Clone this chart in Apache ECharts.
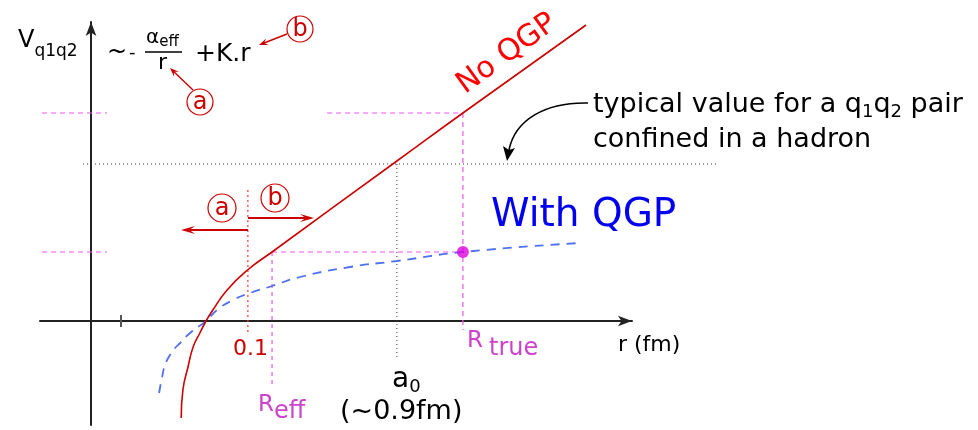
<!DOCTYPE html>
<html>
<head>
<meta charset="utf-8">
<script src="https://cdn.jsdelivr.net/npm/echarts@6/dist/echarts.min.js"></script>
<style>
  html, body { margin: 0; padding: 0; background: #fff; }
  #chart { width: 978px; height: 430px; }
</style>
</head>
<body>
<div id="chart"></div>
<script>
// Quark-antiquark potential V(r): vacuum (no QGP) vs. screened (with QGP)
const rNoQgp = [0.265, 0.270, 0.285, 0.300, 0.320, 0.338, 0.358, 0.400, 0.460, 0.532, 0.899, 1.093, 1.455];
const vNoQgp = [-0.97, -0.69, -0.46, -0.26, -0.12, 0.00, 0.11, 0.31, 0.51, 0.69, 1.60, 2.08, 2.96];

const rWithQgp = [0.200, 0.209, 0.2175, 0.232, 0.247, 0.262, 0.291, 0.338, 0.370, 0.417, 0.467, 0.532, 0.614, 0.761, 0.899, 1.093, 1.437];
const vWithQgp = [-0.72, -0.56, -0.44, -0.34, -0.27, -0.22, -0.12, 0.00, 0.11, 0.21, 0.28, 0.35, 0.44, 0.54, 0.60, 0.69, 0.78];

// characteristic radii
const rTick = 0.088;
const rCut = 0.461;      // 0.1 fm boundary between Coulomb (a) and linear (b) regimes
const rEff = 0.532;
const rA0 = 0.899;
const rTrue = 1.093;

// characteristic potential levels
const vHadron = 1.57;    // typical value for a confined pair
const vHigh = 2.08;      // V_noQGP(R_true)
const vLow = 0.69;       // V_noQGP(R_eff) = V_QGP(R_true)

// extents of guide lines
const rGuideLeft = [-0.144, 0.047];
const rHighRight = 0.694;
const rHadronSpan = [-0.0235, 1.843];
const vEffBottom = -0.67;
const vTrueBottom = -0.09;
const vA0Bottom = -0.39;
const vCutSpan = [-0.12, 1.31];
const tickHalf = 0.06;

// axis ranges: the drawn r axis stops at rAxisMax, the plotting area runs on to rPlotMax
const rMin = -0.15, rAxisMax = 1.59, rPlotMax = 1.8722;
const vMin = -1.04, vMax = 2.99;

const zip = (xs, ys) => xs.map((x, i) => [x, ys[i]]);

const FONT = 'DejaVu Sans';
const RED = '#cc0000';
const PINK = '#ee55ee';
const MAGENTA = '#cc44cc';

function seg(data, color, type, width, extra) {
  return Object.assign({
    type: 'line', data: data, symbol: 'none', silent: true,
    xAxisIndex: 0, yAxisIndex: 0,
    lineStyle: { color: color, type: type, width: width }, z: 3
  }, extra || {});
}

const series = [
  // guide lines
  seg([[rGuideLeft[0], vHigh], [rGuideLeft[1], vHigh]], PINK, [5, 4], 1.2),
  seg([[rHighRight, vHigh], [rTrue, vHigh]], PINK, [5, 4], 1.2),
  seg([[rGuideLeft[0], vLow], [rGuideLeft[1], vLow]], PINK, [5, 4], 1.2),
  seg([[rEff, vLow], [rTrue, vLow]], PINK, [5, 4], 1.2),
  seg([[rEff, vLow], [rEff, vEffBottom]], PINK, [4, 4], 1.2),
  seg([[rTrue, vHigh], [rTrue, vTrueBottom]], PINK, [5, 4], 1.2),
  seg([[rHadronSpan[0], vHadron], [rHadronSpan[1], vHadron]], '#333', [1, 3], 1),
  seg([[rA0, vHadron], [rA0, vA0Bottom]], '#333', [1, 3], 1),
  seg([[rCut, vCutSpan[1]], [rCut, vCutSpan[0]]], '#ff3333', [2, 3], 1.2),
  seg([[rTick, tickHalf], [rTick, -tickHalf]], '#555', 'solid', 2),
  // potentials
  seg(zip(rWithQgp, vWithQgp), '#5070ee', [9, 7], 1.8, { smooth: 0.5, z: 4 }),
  seg(zip(rNoQgp, vNoQgp), RED, 'solid', 1.6, { smooth: 0.5, z: 5 }),
  {
    type: 'scatter', data: [[rTrue, vLow]], symbolSize: 12, silent: true,
    xAxisIndex: 0, yAxisIndex: 0,
    itemStyle: { color: '#dd00dd' }, z: 6
  }
];

const chart = echarts.init(document.getElementById('chart'), null, { renderer: 'canvas' });

// text runs placed on a common baseline, with per-run size and shift (for subscripts)
const measureCtx = document.createElement('canvas').getContext('2d');
function runs(x, baseline, parts, color) {
  const out = [];
  let cx = x;
  parts.forEach(p => {
    const [txt, size, dy] = p;
    const gap = p[3] || 0;
    const font = size + 'px "' + FONT + '"';
    measureCtx.font = font;
    cx += gap;
    out.push({
      type: 'text', x: cx, y: baseline + (dy || 0) - 0.8 * size, silent: true, z: 10,
      style: { text: txt, fill: color, font: font, verticalAlign: 'top', align: 'left' }
    });
    cx += measureCtx.measureText(txt).width;
  });
  return out;
}

function circled(cx, cy, r, letter, size) {
  return [
    { type: 'circle', shape: { cx: cx, cy: cy, r: r }, silent: true, z: 10,
      style: { fill: 'none', stroke: RED, lineWidth: 1.2 } },
    { type: 'text', x: cx, y: cy + 1, silent: true, z: 10,
      style: { text: letter, fill: RED, font: size + 'px "' + FONT + '"', align: 'center', verticalAlign: 'middle' } }
  ];
}

function arrow(x1, y1, x2, y2, color, width, head) {
  const ang = Math.atan2(y2 - y1, x2 - x1);
  const L = head[0], W = head[1];
  const bx = x2 - L * Math.cos(ang), by = y2 - L * Math.sin(ang);
  const nx = -Math.sin(ang) * W, ny = Math.cos(ang) * W;
  const mx = x2 - L * 0.6 * Math.cos(ang), my = y2 - L * 0.6 * Math.sin(ang);
  return [
    { type: 'line', shape: { x1: x1, y1: y1, x2: mx, y2: my }, silent: true, z: 10,
      style: { stroke: color, lineWidth: width } },
    { type: 'polygon', shape: { points: [[x2, y2], [bx + nx, by + ny], [mx, my], [bx - nx, by - ny]] }, silent: true, z: 10,
      style: { fill: color } }
  ];
}

const graphic = [].concat(
  // axis title
  runs(18, 48, [['V', 24, 0], ['q1q2', 17, 9]], '#000'),
  // potential formula
  runs(107, 60, [['~', 24, 0]], '#000'),
  runs(129, 59, [['-', 18, 0]], '#000'),
  runs(146, 44, [['\u03b1', 20, 0], ['eff', 15, 3]], '#000'),
  [{ type: 'line', shape: { x1: 145, y1: 52, x2: 182, y2: 52 }, silent: true, z: 10, style: { stroke: '#000', lineWidth: 1.3 } }],
  runs(158, 70, [['r', 22, 0]], '#000'),
  runs(195, 62, [['+K.r', 25, 0]], '#000'),
  circled(300, 29, 13, 'b', 24),
  arrow(287, 34, 259, 45, RED, 1.4, [9, 3.5]),
  circled(200, 102, 13, 'a', 24),
  arrow(193, 90, 170, 68, RED, 1.4, [9, 3.5]),
  // regime arrows around 0.1 fm
  circled(222, 208, 14, 'a', 24),
  circled(275, 198, 14, 'b', 24),
  arrow(248, 230, 181, 230, RED, 1.8, [14, 4]),
  arrow(248, 218, 314, 218, RED, 1.8, [14, 4]),
  // curve labels
  [{ type: 'text', x: 507, y: 54, rotation: 36 * Math.PI / 180, silent: true, z: 10,
     style: { text: 'No QGP', fill: '#ff0000', font: '30px "' + FONT + '"', align: 'center', verticalAlign: 'middle' } }],
  runs(491, 228, [['With QGP', 39, 0]], '#0000ee'),
  // hadron annotation
  runs(593, 113, [['typical value for a q', 27, 0], ['1', 18, 5], ['q', 27, 0], ['2', 18, 5], [' pair', 27, 0]], '#000'),
  runs(593, 148, [['confined in a hadron', 27, 0]], '#000'),
  [{ type: 'bezierCurve', shape: { x1: 588, y1: 103, cpx1: 545, cpy1: 102, cpx2: 515, cpy2: 120, x2: 509, y2: 150 },
     silent: true, z: 10, style: { stroke: '#000', lineWidth: 1.6, fill: 'none' } },
   { type: 'polygon', shape: { points: [[507, 161], [503, 146], [509, 150], [515, 148]] }, silent: true, z: 10,
     style: { fill: '#000' } }],
  // axis annotations
  runs(233, 356, [['0.1', 22, 0]], RED),
  runs(258, 412, [['R', 23, 0], ['eff', 24, 7]], MAGENTA),
  runs(392, 388, [['a', 28, 0], ['0', 18, 5]], '#000'),
  runs(340, 420, [['(~0.9fm)', 27, 0]], '#000'),
  runs(467, 348, [['R', 23, 0], ['true', 24, 8, 6]], MAGENTA),
  runs(618, 352, [['r (fm)', 22, 0]], '#000')
);

const hiddenAxis = { show: false, splitLine: { show: false } };
const axisStyle = {
  axisLine: { onZero: true, symbol: ['none', 'arrow'], symbolSize: [8, 14],
    lineStyle: { color: '#222', width: 2 } },
  axisTick: { show: false }, axisLabel: { show: false }, splitLine: { show: false }
};

chart.setOption({
  animation: false,
  backgroundColor: '#fff',
  grid: [
    { left: 40, right: 250, top: 22, bottom: 5 },   // plotting area
    { left: 40, right: 346, top: 22, bottom: 5 }    // drawn axes
  ],
  xAxis: [
    Object.assign({ type: 'value', gridIndex: 0, min: rMin, max: rPlotMax }, hiddenAxis),
    Object.assign({ type: 'value', gridIndex: 1, min: rMin, max: rAxisMax }, axisStyle)
  ],
  yAxis: [
    Object.assign({ type: 'value', gridIndex: 0, min: vMin, max: vMax }, hiddenAxis),
    Object.assign({ type: 'value', gridIndex: 1, min: vMin, max: vMax }, axisStyle)
  ],
  series: series,
  graphic: graphic
});
</script>
</body>
</html>
